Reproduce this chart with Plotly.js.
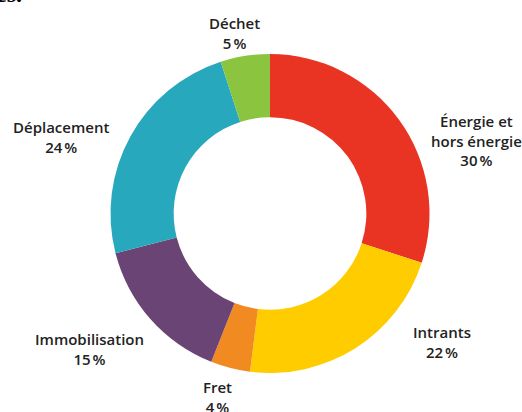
<!DOCTYPE html>
<html>
<head>
<meta charset="utf-8">
<script src="https://cdn.plot.ly/plotly-3.0.1.min.js"></script>
<style>html,body{margin:0;padding:0;background:#fff;}#chart{width:522px;height:412px;}</style>
</head>
<body>
<div id="chart"></div>
<script>
// Data
const categories = ["Énergie et hors énergie", "Intrants", "Fret", "Immobilisation", "Déplacement", "Déchet"];
const displayLabels = ["Énergie et<br>hors énergie", "Intrants", "Fret", "Immobilisation", "Déplacement", "Déchet"];
const shares = [30, 22, 4, 15, 24, 5];
const colors = ["#E93323", "#FFCC00", "#F18A21", "#6A4474", "#27A8BD", "#8BC53F"];

// Label positions in pixels (layout only)
const W = 522, H = 412;
const labelPos = [
  [476, 140], [442, 342], [217, 397], [89, 349], [61, 137], [234, 33]
];

const annotations = categories.map((c, i) => ({
  text: displayLabels[i] + "<br>" + shares[i] + "\u202F%",
  x: labelPos[i][0] / W, y: 1 - labelPos[i][1] / H,
  xref: "paper", yref: "paper", xanchor: "center", yanchor: "middle",
  showarrow: false, align: "center",
  font: {family: "Open Sans", size: 15, color: "#222", weight: 600}
}));
annotations.push({
  text: "es.", x: 24 / W, y: 1 - 9 / H, xref: "paper", yref: "paper",
  xanchor: "right", yanchor: "bottom", showarrow: false,
  font: {family: "Liberation Serif", size: 24, color: "#000", weight: 700}
});

const cx = 270, cy = 213.5, r = 159.5;
const trace = {
  type: "pie",
  labels: categories,
  values: shares,
  sort: false,
  direction: "clockwise",
  rotation: 0,
  hole: 0.604,
  textinfo: "none",
  hoverinfo: "label+percent",
  marker: {colors: colors, line: {width: 0}},
  domain: {x: [(cx - r) / W, (cx + r) / W], y: [(H - cy - r) / H, (H - cy + r) / H]}
};

Plotly.newPlot("chart", [trace], {
  width: W, height: H,
  margin: {l: 0, r: 0, t: 0, b: 0},
  showlegend: false,
  paper_bgcolor: "#fff",
  annotations: annotations
}, {displayModeBar: false, staticPlot: true});
</script>
</body>
</html>
